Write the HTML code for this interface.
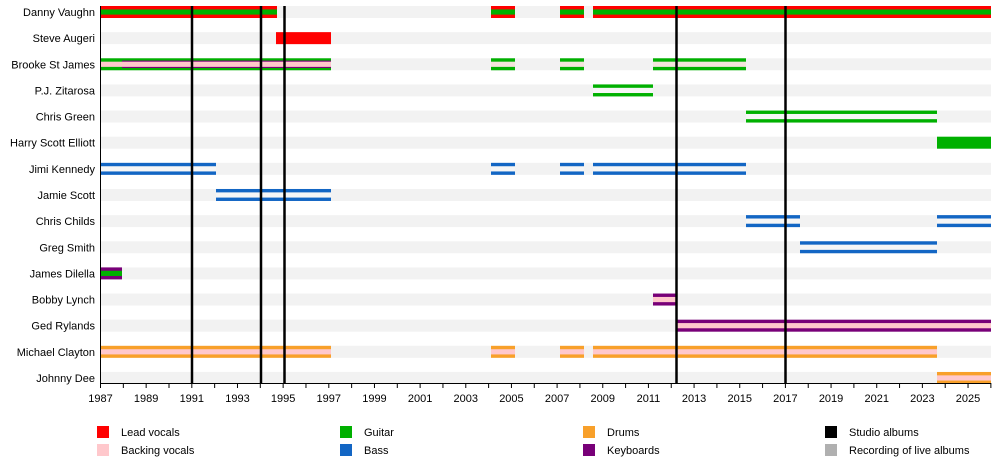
<!DOCTYPE html>
<html><head><meta charset="utf-8"><style>
body{margin:0;background:#fff}
svg{display:block;font-family:"Liberation Sans",Arial,sans-serif}
</style></head><body>
<svg width="1000" height="463" xmlns="http://www.w3.org/2000/svg">
<g id="stripes" fill="#f2f2f2"></g>
<g id="bars"></g>
<g id="lines" stroke="#000" stroke-width="2.5"></g>
<g id="axis"></g>
<g id="names" font-size="11" text-anchor="end" fill="#000"></g>
<g font-size="11" fill="#000">
<rect x="97" y="426" width="12" height="12" fill="#ff0000"/><text x="121" y="436">Lead vocals</text>
<rect x="97" y="444" width="12" height="12" fill="#ffc8cc"/><text x="121" y="454">Backing vocals</text>
<rect x="340" y="426" width="12" height="12" fill="#00b000"/><text x="364" y="436">Guitar</text>
<rect x="340" y="444" width="12" height="12" fill="#1366c4"/><text x="364" y="454">Bass</text>
<rect x="583" y="426" width="12" height="12" fill="#f8a02a"/><text x="607" y="436">Drums</text>
<rect x="583" y="444" width="12" height="12" fill="#780078"/><text x="607" y="454">Keyboards</text>
<rect x="825" y="426" width="12" height="12" fill="#000"/><text x="849" y="436">Studio albums</text>
<rect x="825" y="444" width="12" height="12" fill="#b0b0b0"/><text x="849" y="454">Recording of live albums</text>
</g>
</svg>
<script>
const NS="http://www.w3.org/2000/svg";
function el(p,t,a,txt){const e=document.createElementNS(NS,t);for(const k in a)e.setAttribute(k,a[k]);if(txt)e.textContent=txt;document.getElementById(p).appendChild(e);}
const R="#ff0000",P="#ffc8cc",G="#00b000",B="#1366c4",O="#f8a02a",K="#780078",W="#f6f6f6";
const names=["Danny Vaughn","Steve Augeri","Brooke St James","P.J. Zitarosa","Chris Green","Harry Scott Elliott","Jimi Kennedy","Jamie Scott","Chris Childs","Greg Smith","James Dilella","Bobby Lynch","Ged Rylands","Michael Clayton","Johnny Dee"];
const cy=i=>12+i*26.14;
names.forEach((n,i)=>{el("stripes","rect",{x:100,y:cy(i)-6,width:891,height:12});el("names","text",{x:95,y:cy(i)+4},n);});
const bars=[
[0,100,277,R,G],[0,491,515,R,G],[0,560,584,R,G],[0,593,991,R,G],
[1,276,331,R,null],
[2,100,122,G,P],[2,122,331,G,P,K],[2,491,515,G,"#f4e4dc"],[2,560,584,G,"#f4e4dc"],[2,653,746,G,"#f4e4dc"],
[3,593,653,G,W],[4,746,937,G,W],[5,937,991,G,null],
[6,100,216,B,W],[6,491,515,B,W],[6,560,584,B,W],[6,593,746,B,W],
[7,216,331,B,W],[8,746,800,B,W],[8,937,991,B,W],[9,800,937,B,W],
[10,100,122,K,G],[11,653,676,K,P],[12,676,991,K,P],
[13,100,331,O,P],[13,491,515,O,P],[13,560,584,O,P],[13,593,937,O,P],[14,937,991,O,P]];
bars.forEach(b=>{const y=cy(b[0]);el("bars","rect",{x:b[1],y:y-6,width:b[2]-b[1],height:12,fill:b[3]});
 if(b[5])el("bars","rect",{x:b[1],y:y-3.7,width:b[2]-b[1],height:7.4,fill:b[5]});
 if(b[4])el("bars","rect",{x:b[1],y:y-2.6,width:b[2]-b[1],height:5.2,fill:b[4]});});
[192,261,284.5,676.5,785.5].forEach(x=>el("lines","line",{x1:x,y1:6,x2:x,y2:383}));
el("axis","line",{x1:100.5,y1:6,x2:100.5,y2:384,stroke:"#000","stroke-width":1});
el("axis","line",{x1:100,y1:383.5,x2:991,y2:383.5,stroke:"#000","stroke-width":1});
for(let yr=1987;yr<=2026;yr++){const x=100.5+(yr-1987)*22.83;if(x>992)break;
 el("axis","line",{x1:x,y1:383,x2:x,y2:388,stroke:"#000","stroke-width":1});
 if((yr-1987)%2==0)el("axis","text",{x:x,y:402,"font-size":11,"text-anchor":"middle"},String(yr));}
</script>
</body></html>
